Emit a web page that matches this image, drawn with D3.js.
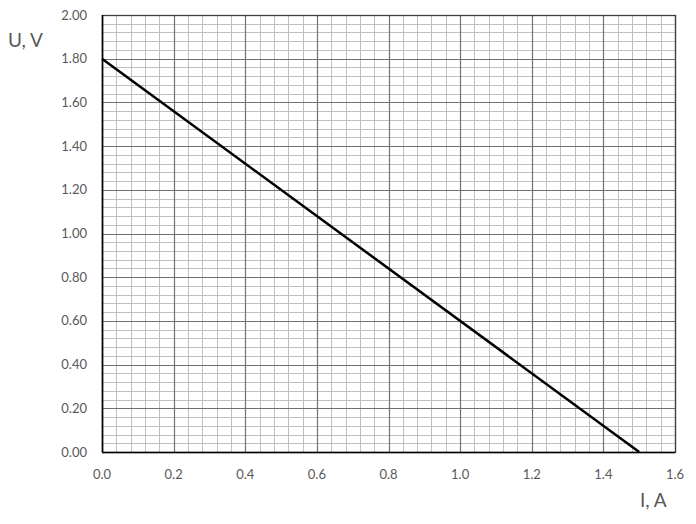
<!DOCTYPE html>
<html><head><meta charset="utf-8">
<script src="https://cdn.jsdelivr.net/npm/d3@7"></script>
<style>body{margin:0;background:#fff}text{font-family:Lato,"Open Sans",sans-serif}</style>
</head><body><svg id="c" width="696" height="524"></svg>
<script>
const xTicks = [0.0,0.2,0.4,0.6,0.8,1.0,1.2,1.4,1.6];
const yTicks = [0.0,0.2,0.4,0.6,0.8,1.0,1.2,1.4,1.6,1.8,2.0];
const currentI = [0.0, 1.5];
const voltageU = [1.8, 0.0];

const svg = d3.select("#c");
const L=102, R=675, T=15, B=452;
const x = d3.scaleLinear().domain([0,1.6]).range([L,R]);
const y = d3.scaleLinear().domain([0,2.0]).range([B,T]);
const g = svg.append("g");
const minorX = d3.range(0,81).map(i=>i*0.02*1).filter(v=>v<=1.6+1e-9);
const mx = d3.range(0,41).map(i=>i*0.04);
const my = d3.range(0,51).map(i=>i*0.04);
g.selectAll(".mx").data(mx).join("line").attr("x1",d=>Math.round(x(d))+0.5).attr("x2",d=>Math.round(x(d))+0.5).attr("y1",T).attr("y2",B).attr("stroke","#c0c0c0").attr("stroke-width",1);
g.selectAll(".my").data(my).join("line").attr("y1",d=>Math.round(y(d))+0.5).attr("y2",d=>Math.round(y(d))+0.5).attr("x1",L).attr("x2",R).attr("stroke","#c0c0c0").attr("stroke-width",1);
g.selectAll(".Mx").data(xTicks).join("line").attr("x1",d=>Math.round(x(d))+0.5).attr("x2",d=>Math.round(x(d))+0.5).attr("y1",T).attr("y2",B).attr("stroke","#707070").attr("stroke-width",1.2);
g.selectAll(".My").data(yTicks).join("line").attr("y1",d=>Math.round(y(d))+0.5).attr("y2",d=>Math.round(y(d))+0.5).attr("x1",L).attr("x2",R).attr("stroke","#707070").attr("stroke-width",1.2);
g.append("rect").attr("x",L+0.5).attr("y",T+0.5).attr("width",R-L).attr("height",B-T).attr("fill","none").attr("stroke","#404040").attr("stroke-width",1.3);
g.append("line").attr("x1",L+0.5).attr("x2",L+0.5).attr("y1",T).attr("y2",B).attr("stroke","#000").attr("stroke-width",1.5);
g.append("line").attr("x1",L).attr("x2",R).attr("y1",B+0.5).attr("y2",B+0.5).attr("stroke","#000").attr("stroke-width",1.5);

const pts = currentI.map((v,i)=>[v,voltageU[i]]);
g.append("path").attr("d",d3.line().x(d=>x(d[0])).y(d=>y(d[1]))(pts)).attr("stroke","#000").attr("stroke-width",2.5).attr("fill","none");

svg.selectAll(".xl").data(xTicks).join("text").attr("x",d=>x(d)).attr("y",479).attr("text-anchor","middle").attr("font-size",13).attr("fill","#595959").text(d=>d.toFixed(1));
svg.selectAll(".yl").data(yTicks).join("text").attr("x",87).attr("y",d=>y(d)+4.5).attr("text-anchor","end").attr("font-size",13).attr("fill","#595959").text(d=>d.toFixed(2));
svg.append("text").attr("x",8).attr("y",47).attr("font-size",19).attr("fill","#595959").text("U, V");
svg.append("text").attr("x",640).attr("y",507).attr("font-size",19).attr("fill","#595959").text("I, A");
</script></body></html>
